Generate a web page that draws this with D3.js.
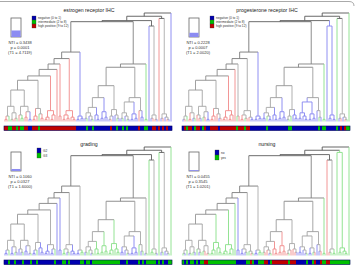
<!DOCTYPE html>
<html>
<head>
<meta charset="utf-8">
<script src="https://cdn.jsdelivr.net/npm/d3@7"></script>
<style>
  body { margin: 0; background: #fff; }
  svg { display: block; font-family: "Liberation Sans", Arial, sans-serif; }
</style>
</head>
<body>
<svg id="chart" width="356" height="268"></svg>
<script>
// tree: [mergeHeight, left, right], a leaf is 0 (leaves numbered left to right)
var g1 = [14, [5, [2, 0, 0], 0], [8, [2, 0, 0], [3, 0, 0]]];
var g2 = [14, [6, 0, [3, 0, 0]], [9, [4, 0, 0], [2, 0, 0]]];
var g3 = [12, [5, [2, 0, 0], 0], [7, 0, [3, 0, 0]]];
var g4 = [10, [4, [2, 0, 0], 0], [6, [2, 0, 0], 0]];
var g5 = [5, 0, 0];
var g6 = [10, [6, [2, 0, 0], [3, 0, 0]], [4, 0, [2, 0, 0]]];
var g7 = [5, [2, 0, 0], [3, 0, 0]];
var leftCluster = [64, [58, [53, [48, [42, [38, [29, g1, g2], g3], g4], 0], g5], g6], g7];

var m1 = [8, [3, 0, 0], [5, 0, [2, 0, 0]]];
var m2 = [6, 0, [2, 0, 0]];
var m3 = [9, [3, 0, 0], [4, 0, 0]];
var m4 = [11, [5, [2, 0, 0], 0], [6, 0, [3, 0, 0]]];
var m5 = [8, [3, 0, 0], [5, 0, [2, 0, 0]]];
var m6 = [7, [2, 0, 0], [3, 0, 0]];
var m7 = [10, 0, [4, 0, 0]];
var midCluster = [53, [50, [33, [22, [13, m1, m2], m3], m4], [22, [18, m5, m6], m7]], [2, 0, 0]];

var wCluster = [88, 0, [6, [3, 0, 0], [2, 0, 0]]];
var zCluster = [95, 0, [7, [3, 0, 0], [4, 0, [2, 0, 0]]]];
var dendroTree = [100, [97, [93, [92, leftCluster, midCluster], wCluster], zCluster], 0];

// leaf categories, left to right
var erCat = [2,2,1,1,2,2,1, 2,1,1,2,2,0,0, 2,2,2,1,2,2, 2,2,2,2,2,2, 2, 2,2, 2,2,2,2,2,2,2, 0,0,0,0,
  0,1,0,0,1, 0,0,0, 0,0,0,0, 0,2,0,0,1,0, 0,1,0,1,0, 0,0,0,0, 2,0,0, 1,1,
  0, 0,2,2,0, 2, 0,2,0,2,0, 0];
var prCat = [0,2,1,2,2,0,1, 2,2,0,1,2,0,0, 2,2,2,2,0,2, 2,2,2,2,2,2, 2, 1,2, 2,2,1,2,2,0,0, 0,0,0,0,
  0,0,1,0,0, 0,0,0, 0,0,0,0, 0,1,1,0,0,0, 0,0,0,0,0, 0,0,0,0, 0,1,0, 1,1,
  0, 0,0,0,0, 1, 0,2,0,2,1, 1];
var gradeCat = [0,0,1,0,0,1,0, 0,0,1,0,0,0,1, 0,0,1,0,0,0, 0,0,0,0,0,1, 0, 0,0, 1,1,0,1,0,0,0, 0,0,1,1,
  0,1,1,0,1, 1,1,1, 1,1,1,1, 1,1,1,1,1,1, 0,0,0,1,0, 0,0,0,0, 1,0,1, 0,1,
  1, 1,1,1,0, 1, 0,1,0,0,1, 1];
var nursingCat = [1,0,1,0,1,1,0, 1,0,1,1,2,2,1, 1,1,1,1,1,1, 1,1,1,1,1,1, 1, 0,0, 0,0,0,1,1,2,1, 0,0,1,1,
  1,2,2,0,1, 2,2,2, 2,2,2,2, 2,1,2,2,2,0, 0,0,0,0,1, 0,0,1,2, 0,0,2, 1,1,
  2, 2,1,1,1, 1, 1,1,1,1,1, 1];

var titles = ['estrogen receptor IHC', 'progesterone receptor IHC', 'grading', 'nursing'];
var erLegend = ['negative (0 to 1)', 'intermediate (2 to 8)', 'high positive (9 to 12)'];
var prLegend = ['negative (0 to 1)', 'intermediate (2 to 8)', 'high positive (9 to 12)'];
var gradeLegend = ['G2', 'G3'];
var nursingLegend = ['no', 'yes'];
var ntiValues = [0.3438, 0.2228, 0.1060, 0.0455];
var pValues = ['0.0001', '0.0007', '0.0327', '0.3545'];
var t1Values = ['4.7119', '2.0020', '1.6000', '1.0201'];

var barColors = ['#0000b0', '#00c000', '#c00000', '#c8c8c8'];
var branchColors = ['#8484f0', '#88e088', '#f08a8a', null];

var panels = [
  {x: 0, y: 0, cats: erCat, legend: erLegend, lx: 32, ly: 16, lh: 4},
  {x: 178, y: 0, cats: prCat, legend: prLegend, lx: 32, ly: 16, lh: 4},
  {x: 0, y: 134, cats: gradeCat, legend: gradeLegend, lx: 37, ly: 14, lh: 5},
  {x: 178, y: 134, cats: nursingCat, legend: nursingLegend, lx: 37, ly: 16, lh: 5}
];

var svg = d3.select('#chart');

// frame line at the top
svg.append('path')
  .attr('d', 'M0,1.5H349Q354,1.5 354,6')
  .attr('fill', 'none')
  .attr('stroke', '#aaa')
  .attr('stroke-width', 1);

var root = d3.hierarchy(dendroTree, function(d) {
  return Array.isArray(d) ? d.slice(1) : null;
});
var leaves = root.leaves();
leaves.forEach(function(l, i) { l.idx = i; });

var xScale = d3.scalePoint()
  .domain(d3.range(leaves.length))
  .range([5, 171]);
var yScale = d3.scaleLinear()
  .domain([0, 100])
  .range([121.5, 13]);
var grayScale = d3.scaleLinear()
  .domain([0, 100])
  .range(['#b0b0b0', '#555555']);

root.eachAfter(function(n) {
  if (n.children) {
    n.px = d3.mean(n.children, function(c) { return c.px; });
    n.py = yScale(n.data[0]);
  } else {
    n.px = xScale(n.idx);
    n.py = yScale(0);
  }
});

panels.forEach(function(p, pi) {
  var g = svg.append('g').attr('transform', 'translate(' + p.x + ',' + p.y + ')');

  // category of each node: the shared leaf category, or -1 when mixed
  function nodeCat(n) {
    var cs = n.leaves().map(function(l) { return p.cats[l.idx]; });
    var c0 = cs[0];
    var pure = cs.every(function(c) { return c === c0; });
    return (pure && branchColors[c0]) ? c0 : -1;
  }
  function nodeColor(n) {
    var c = nodeCat(n);
    if (c >= 0) return branchColors[c];
    return grayScale(n.children ? n.data[0] : 0);
  }

  g.append('text')
    .attr('x', 89)
    .attr('y', 12)
    .attr('text-anchor', 'middle')
    .attr('font-size', 5.2)
    .attr('fill', '#222')
    .text(titles[pi]);

  // NTI box
  var boxH = 19;
  g.append('rect')
    .attr('x', 11).attr('y', 18)
    .attr('width', 10).attr('height', boxH)
    .attr('fill', '#fff')
    .attr('stroke', '#666')
    .attr('stroke-width', 0.8);
  g.append('rect')
    .attr('x', 11.4).attr('y', 18 + boxH * (1 - ntiValues[pi]))
    .attr('width', 9.2).attr('height', boxH * ntiValues[pi])
    .attr('fill', '#8c8cf2');

  var stats = ['NTI = ' + ntiValues[pi].toFixed(4), 'p = ' + pValues[pi], '(T1 = ' + t1Values[pi] + ')'];
  g.selectAll('text.stat')
    .data(stats)
    .enter()
    .append('text')
    .attr('class', 'stat')
    .attr('x', 20)
    .attr('y', function(d, i) { return 44 + i * 5; })
    .attr('text-anchor', 'middle')
    .attr('font-size', 4)
    .attr('fill', '#333')
    .text(function(d) { return d; });

  // legend
  p.legend.forEach(function(lab, i) {
    g.append('rect')
      .attr('x', p.lx).attr('y', p.ly + i * p.lh)
      .attr('width', 4).attr('height', p.lh)
      .attr('fill', barColors[i])
      .attr('stroke', '#333')
      .attr('stroke-width', 0.3);
    g.append('text')
      .attr('x', p.lx + 6)
      .attr('y', p.ly + i * p.lh + p.lh * 0.75)
      .attr('font-size', 3.2)
      .attr('fill', '#333')
      .text(lab);
  });

  // dendrogram
  var lines = g.append('g').attr('fill', 'none').attr('stroke-width', 0.9);
  root.descendants().forEach(function(n) {
    var col = nodeColor(n);
    if (n.parent) {
      lines.append('line')
        .attr('x1', n.px).attr('x2', n.px)
        .attr('y1', n.py).attr('y2', n.parent.py)
        .attr('stroke', col);
    }
    if (n.children) {
      lines.append('line')
        .attr('x1', n.children[0].px).attr('x2', n.children[1].px)
        .attr('y1', n.py).attr('y2', n.py)
        .attr('stroke', col);
    }
  });

  // color bar
  var step = xScale.step();
  g.selectAll('rect.cell')
    .data(leaves)
    .enter()
    .append('rect')
    .attr('class', 'cell')
    .attr('x', function(d) { return xScale(d.idx) - step / 2; })
    .attr('y', 126)
    .attr('width', step + 0.05)
    .attr('height', 4.5)
    .attr('fill', function(d) { return barColors[p.cats[d.idx]]; });
  g.append('rect')
    .attr('x', xScale(0) - step / 2).attr('y', 126)
    .attr('width', xScale(leaves.length - 1) - xScale(0) + step)
    .attr('height', 4.5)
    .attr('fill', 'none')
    .attr('stroke', '#000060')
    .attr('stroke-width', 0.6);
});
</script>
</body>
</html>
